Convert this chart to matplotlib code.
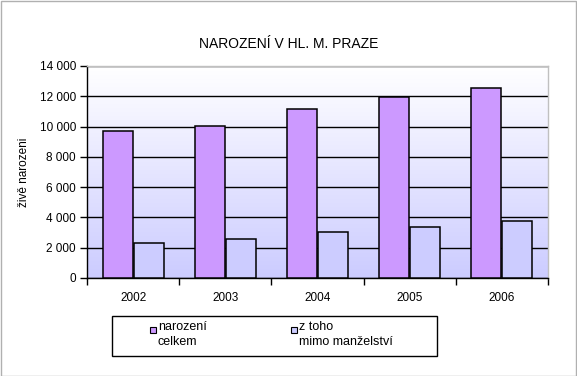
import numpy as np
import matplotlib.pyplot as plt
from matplotlib.patches import Rectangle
from matplotlib.ticker import FuncFormatter

plt.rcParams['font.family'] = ['Liberation Sans', 'DejaVu Sans']

# data
years = ['2002', '2003', '2004', '2005', '2006']
narozeni_celkem = [9700, 10050, 11150, 11950, 12550]
mimo_manzelstvi = [2300, 2570, 3040, 3370, 3760]
labels = ['narození\ncelkem', 'z toho\nmimo manželství']
colors = ['#CC99FF', '#CCCCFF']

W, H = 577, 376
fig = plt.figure(figsize=(W / 100, H / 100), dpi=100)

# plot area in pixels
left, right, top, bottom = 87, 548, 66, 278
ax = fig.add_axes([left / W, 1 - bottom / H, (right - left) / W, (bottom - top) / H])

# gradient background
grad = np.linspace(0, 1, 256).reshape(-1, 1)
c_top = np.array([0.80, 0.80, 1.0])
c_bot = np.array([1.0, 1.0, 1.0])
img = c_top[None, None, :] * (1 - grad[:, :, None]) + c_bot[None, None, :] * grad[:, :, None]
ax.imshow(img, extent=[-0.5, 4.5, 14000, 0], aspect='auto', zorder=0)

x = np.arange(len(years))
bw = 0.325
ax.bar(x - bw / 2 - 0.005, narozeni_celkem, bw, color=colors[0], edgecolor='black', linewidth=1.1, zorder=3)
ax.bar(x + bw / 2 + 0.005, mimo_manzelstvi, bw, color=colors[1], edgecolor='black', linewidth=1.1, zorder=3)

ax.set_xlim(-0.5, 4.5)
ax.set_ylim(0, 14000)
ax.set_yticks(range(0, 14001, 2000))
ax.yaxis.set_major_formatter(FuncFormatter(lambda v, p: f'{int(v):,}'.replace(',', ' ')))
ax.grid(axis='y', color='black', linewidth=1.0, zorder=1)
ax.set_axisbelow(True)

ax.set_xticks(np.arange(-0.5, 5, 1))
ax.set_xticklabels([])
ax.set_xticks(x, minor=True)
ax.set_xticklabels(years, minor=True)
ax.tick_params(axis='x', which='major', direction='out', length=5, width=1, color='black')
ax.tick_params(axis='x', which='minor', length=0, pad=10, labelsize=8.5)
ax.tick_params(axis='y', direction='out', length=5, width=1, labelsize=8.5, pad=3)

for s in ['left', 'bottom']:
    ax.spines[s].set_color('black')
    ax.spines[s].set_linewidth(1.0)
for s in ['top', 'right']:
    ax.spines[s].set_color('#C0C0C0')
    ax.spines[s].set_linewidth(1.0)

ax.set_ylabel('živě narozeni', fontsize=8.5, labelpad=7)

fig.text(0.5, 1 - 44 / H, 'NAROZENÍ V HL. M. PRAZE', ha='center', va='center', fontsize=10)

# legend drawn by hand
fig.patches.append(Rectangle((112 / W, 1 - 356 / H), (437 - 112) / W, 40 / H,
                             transform=fig.transFigure, facecolor='white', edgecolor='black', linewidth=1.0))
for lx, lab, col in [(150, labels[0], colors[0]), (291, labels[1], colors[1])]:
    fig.patches.append(Rectangle((lx / W, 1 - 333 / H), 6 / W, 6 / H, transform=fig.transFigure,
                                 facecolor=col, edgecolor='black', linewidth=0.8))
    fig.text((lx + 8) / W, 1 - 321 / H, lab, ha='left', va='top', fontsize=9, linespacing=1.3)

# outer chart frame
fig.patches.append(Rectangle((0.5 / W, 0.5 / H), (W - 2) / W, (H - 1.5) / H, transform=fig.transFigure,
                             facecolor='none', edgecolor='#B0B0B0', linewidth=1.0))

fig.savefig('out.png', dpi=100)
